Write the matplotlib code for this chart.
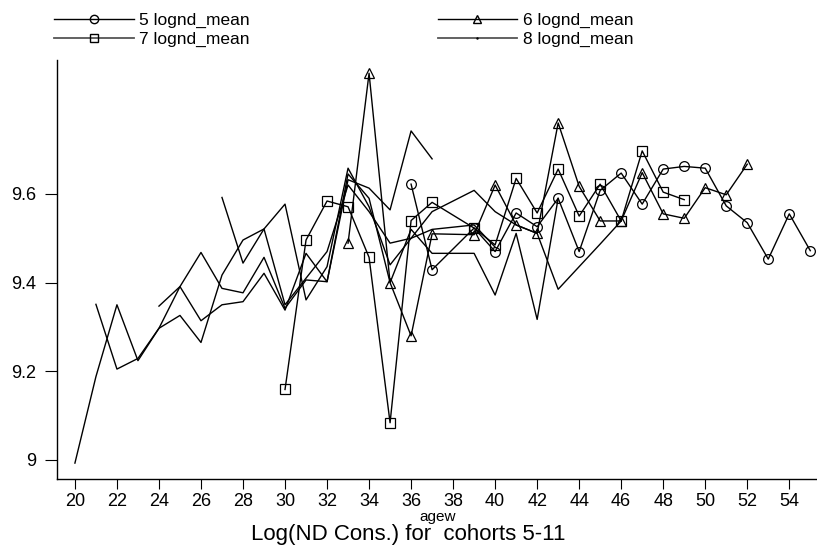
import numpy as np
import matplotlib
matplotlib.use('Agg')
from matplotlib import pyplot as plt
from matplotlib.lines import Line2D

plt.rcParams['font.family'] = ['Liberation Sans', 'DejaVu Sans']

# ages (38 is missing for every cohort)
age5 = [36, 37] + list(range(39, 56))
age6 = [33, 34, 35, 36, 37] + list(range(39, 53))
age7 = list(range(30, 38)) + list(range(39, 50))
age8 = list(range(27, 38)) + list(range(39, 47))
age9 = list(range(24, 38)) + list(range(39, 44))
age10 = list(range(21, 38)) + [39, 40]
age11 = list(range(20, 38))

lognd5 = [9.622, 9.429, 9.523, 9.470, 9.557, 9.526, 9.590, 9.470, 9.608, 9.647,
          9.577, 9.656, 9.662, 9.658, 9.573, 9.535, 9.453, 9.555, 9.472]
lognd6 = [9.489, 9.872, 9.400, 9.280, 9.510, 9.508, 9.620, 9.530, 9.511, 9.760,
          9.617, 9.539, 9.539, 9.648, 9.555, 9.545, 9.614, 9.598, 9.667]
lognd7 = [9.159, 9.496, 9.584, 9.571, 9.457, 9.084, 9.540, 9.581, 9.523, 9.485,
          9.635, 9.557, 9.656, 9.550, 9.622, 9.539, 9.697, 9.604, 9.587]
lognd8 = [9.592, 9.444, 9.521, 9.577, 9.361, 9.436, 9.658, 9.571, 9.440, 9.500,
          9.560, 9.608, 9.560, 9.530, 9.511, 9.385, 9.436, 9.487, 9.539]
lognd9 = [9.347, 9.391, 9.314, 9.350, 9.357, 9.421, 9.338, 9.466, 9.402, 9.645,
          9.590, 9.400, 9.520, 9.466, 9.466, 9.372, 9.511, 9.317, 9.590]
lognd10 = [9.351, 9.205, 9.229, 9.297, 9.326, 9.265, 9.417, 9.496, 9.521, 9.350,
           9.410, 9.470, 9.620, 9.560, 9.489, 9.500, 9.520, 9.530, 9.480]
lognd11 = [8.993, 9.188, 9.350, 9.224, 9.297, 9.391, 9.468, 9.387, 9.377, 9.457,
           9.342, 9.406, 9.402, 9.632, 9.613, 9.564, 9.742, 9.679]

fig = plt.figure(figsize=(8.17, 5.59), dpi=100)
ax = fig.add_axes([0.0701, 0.1426, 0.9299, 0.7501])

lw = 1.0
ms = 7
ax.plot(age5, lognd5, color='black', lw=lw, marker='o', ms=ms, mfc='none', mec='black', mew=0.9)
ax.plot(age6, lognd6, color='black', lw=lw, marker='^', ms=ms, mfc='none', mec='black', mew=0.9)
ax.plot(age7, lognd7, color='black', lw=lw, marker='s', ms=ms - 0.5, mfc='none', mec='black', mew=0.9)
ax.plot(age8, lognd8, color='black', lw=lw)
ax.plot(age9, lognd9, color='black', lw=lw)
ax.plot(age10, lognd10, color='black', lw=lw)
ax.plot(age11, lognd11, color='black', lw=lw)

ax.set_xlim(19.16, 55.32)
ax.set_ylim(8.9565, 9.902)
ax.set_xticks(np.arange(20, 55, 2))
ax.set_yticks([9, 9.2, 9.4, 9.6])
ax.set_yticklabels(['9', '9.2', '9.4', '9.6'])
ax.tick_params(axis='x', length=7, width=0.8, labelsize=13, pad=3)
ax.tick_params(axis='y', length=9, width=0.8, labelsize=13, pad=6)
for s in ['top', 'right']:
    ax.spines[s].set_visible(False)
for s in ['left', 'bottom']:
    ax.spines[s].set_linewidth(1.0)

ax.set_xlabel('agew', fontsize=11, labelpad=0)
fig.text(0.5, 0.025, 'Log(ND Cons.) for  cohorts 5-11', ha='center', va='bottom', fontsize=16)

h5 = Line2D([], [], color='black', lw=lw, marker='o', ms=6, mfc='none', mec='black')
h6 = Line2D([], [], color='black', lw=lw, marker='^', ms=6, mfc='none', mec='black')
h7 = Line2D([], [], color='#555555', lw=1.3, marker='s', ms=6, mfc='none', mec='black')
h8 = Line2D([], [], color='#555555', lw=1.3, marker='.', ms=1.5, mec='black')
# column-wise fill: 5 and 7 on the left, 6 and 8 on the right
fig.legend([h5, h7, h6, h8], ['5 lognd_mean', '7 lognd_mean', '6 lognd_mean', '8 lognd_mean'],
           loc='upper left', bbox_to_anchor=(0.058, 0.99), ncol=2,
           frameon=False, fontsize=12.5, handlelength=4.6, handletextpad=0.3,
           columnspacing=10.8, labelspacing=0.25, borderaxespad=0)

fig.savefig('out.png', dpi=100)
